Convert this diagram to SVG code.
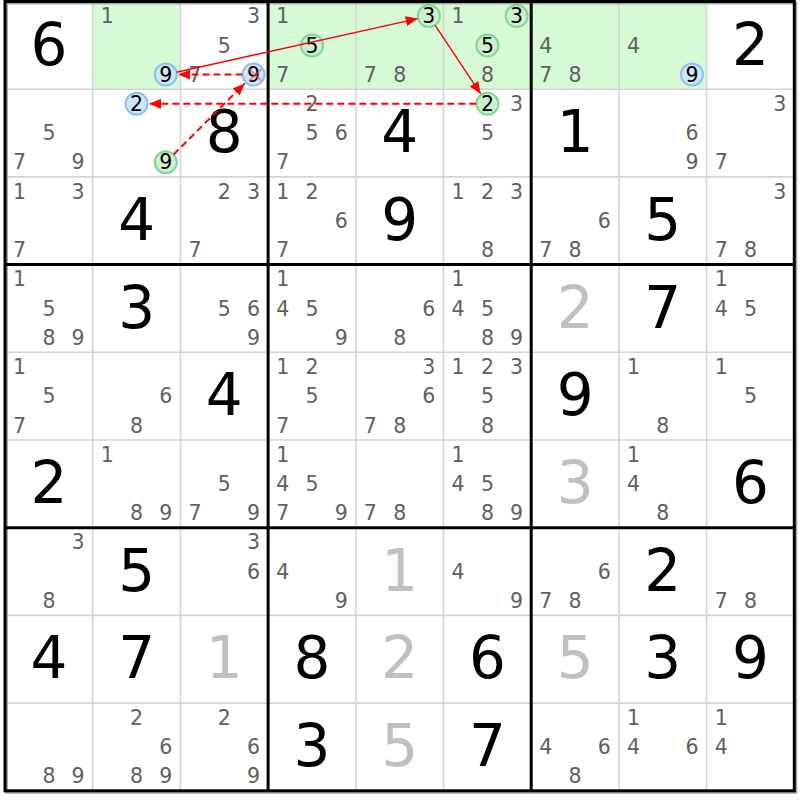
<svg xmlns="http://www.w3.org/2000/svg" width="800" height="800" viewBox="0 0 800 800">
<defs>
<style>
text{font-family:"DejaVu Sans","Verdana",sans-serif;text-anchor:middle}
.c{font-size:20.5px;fill:#606060}
.h{font-size:20.5px;fill:#000}
.g{font-size:58px;fill:#000}
.s{font-size:58px;fill:#c0c0c0}
.bg{fill:#d5fad5}
.cb{fill:#cfe5fb;stroke:#8cc0ee;stroke-width:2}
.cg{fill:#cdf0d0;stroke:#80d890;stroke-width:2}
.thin{stroke:#d4d4d4;stroke-width:1.6;fill:none}
.thick{stroke:#000;stroke-width:3;fill:none}
.arr{stroke:#f00;fill:none;marker-end:url(#ah)}
.sol{stroke-width:1.4}
.dash{stroke-width:2;stroke-dasharray:7,4}
</style>
<marker id="ah" markerUnits="userSpaceOnUse" markerWidth="12" markerHeight="10" refX="12" refY="5" orient="auto"><path d="M0,0 L12,5 L0,10 z" fill="#f00"/></marker>
</defs>
<rect x="0" y="0" width="800" height="800" fill="#fff"/>
<g id="highlight">
<rect class="bg" x="92.7" y="1.5" width="87.7" height="87.7"/>
<rect class="bg" x="268.1" y="1.5" width="438.5" height="87.7"/>
</g>
<g id="grid">
<path class="thin" d="M92.7,1.5V790.8M180.4,1.5V790.8M355.8,1.5V790.8M443.5,1.5V790.8M618.9,1.5V790.8M706.6,1.5V790.8M5,89.2H794.3M5,176.9H794.3M5,352.3H794.3M5,440H794.3M5,615.4H794.3M5,703.1H794.3"/>
<rect x="6.5" y="3" width="789.3" height="789.3" fill="none" stroke="#aaa" stroke-width="3"/>
<path class="thick" d="M268.1,1.5V790.8M531.2,1.5V790.8M5,264.6H794.3M5,527.7H794.3"/>
<rect class="thick" x="5" y="1.5" width="789.3" height="789.3"/>
</g>
<g id="r1c1" transform="translate(5,1.5)"><text class="g" x="43.9" y="63">6</text></g>
<g id="r1c2" transform="translate(92.7,1.5)"><circle class="cb" cx="73.1" cy="73.1" r="11"/><text class="c" x="14.6" y="21.8">1</text><text class="h" x="73.1" y="80.3">9</text></g>
<g id="r1c3" transform="translate(180.4,1.5)"><circle class="cb" cx="73.1" cy="73.1" r="11"/><text class="c" x="73.1" y="21.8">3</text><text class="c" x="43.9" y="51">5</text><text class="c" x="14.6" y="80.3">7</text><text class="h" x="73.1" y="80.3">9</text><path d="M69,67.5L81,79.5M69,79.5L81,67.5" stroke="#ff5050" stroke-opacity="0.55" stroke-width="2.2"/></g>
<g id="r1c4" transform="translate(268.1,1.5)"><circle class="cg" cx="43.9" cy="43.9" r="11"/><text class="c" x="14.6" y="21.8">1</text><text class="h" x="43.9" y="51">5</text><text class="c" x="14.6" y="80.3">7</text></g>
<g id="r1c5" transform="translate(355.8,1.5)"><circle class="cg" cx="73.1" cy="14.6" r="11"/><text class="h" x="73.1" y="21.8">3</text><text class="c" x="14.6" y="80.3">7</text><text class="c" x="43.9" y="80.3">8</text></g>
<g id="r1c6" transform="translate(443.5,1.5)"><circle class="cg" cx="73.1" cy="14.6" r="11"/><circle class="cg" cx="43.9" cy="43.9" r="11"/><text class="c" x="14.6" y="21.8">1</text><text class="h" x="73.1" y="21.8">3</text><text class="h" x="43.9" y="51">5</text><text class="c" x="43.9" y="80.3">8</text></g>
<g id="r1c7" transform="translate(531.2,1.5)"><text class="c" x="14.6" y="51">4</text><text class="c" x="14.6" y="80.3">7</text><text class="c" x="43.9" y="80.3">8</text></g>
<g id="r1c8" transform="translate(618.9,1.5)"><circle class="cb" cx="73.1" cy="73.1" r="11"/><text class="c" x="14.6" y="51">4</text><text class="h" x="73.1" y="80.3">9</text></g>
<g id="r1c9" transform="translate(706.6,1.5)"><text class="g" x="43.9" y="63">2</text></g>
<g id="r2c1" transform="translate(5,89.2)"><text class="c" x="43.9" y="51">5</text><text class="c" x="14.6" y="80.3">7</text><text class="c" x="73.1" y="80.3">9</text></g>
<g id="r2c2" transform="translate(92.7,89.2)"><circle class="cb" cx="43.9" cy="14.6" r="11"/><circle class="cg" cx="73.1" cy="73.1" r="11"/><text class="h" x="43.9" y="21.8">2</text><text class="h" x="73.1" y="80.3">9</text></g>
<g id="r2c3" transform="translate(180.4,89.2)"><text class="g" x="43.9" y="63">8</text></g>
<g id="r2c4" transform="translate(268.1,89.2)"><text class="c" x="43.9" y="21.8">2</text><text class="c" x="43.9" y="51">5</text><text class="c" x="73.1" y="51">6</text><text class="c" x="14.6" y="80.3">7</text></g>
<g id="r2c5" transform="translate(355.8,89.2)"><text class="g" x="43.9" y="63">4</text></g>
<g id="r2c6" transform="translate(443.5,89.2)"><circle class="cg" cx="43.9" cy="14.6" r="11"/><text class="h" x="43.9" y="21.8">2</text><text class="c" x="73.1" y="21.8">3</text><text class="c" x="43.9" y="51">5</text></g>
<g id="r2c7" transform="translate(531.2,89.2)"><text class="g" x="43.9" y="63">1</text></g>
<g id="r2c8" transform="translate(618.9,89.2)"><text class="c" x="73.1" y="51">6</text><text class="c" x="73.1" y="80.3">9</text></g>
<g id="r2c9" transform="translate(706.6,89.2)"><text class="c" x="73.1" y="21.8">3</text><text class="c" x="14.6" y="80.3">7</text></g>
<g id="r3c1" transform="translate(5,176.9)"><text class="c" x="14.6" y="21.8">1</text><text class="c" x="73.1" y="21.8">3</text><text class="c" x="14.6" y="80.3">7</text></g>
<g id="r3c2" transform="translate(92.7,176.9)"><text class="g" x="43.9" y="63">4</text></g>
<g id="r3c3" transform="translate(180.4,176.9)"><text class="c" x="43.9" y="21.8">2</text><text class="c" x="73.1" y="21.8">3</text><text class="c" x="14.6" y="80.3">7</text></g>
<g id="r3c4" transform="translate(268.1,176.9)"><text class="c" x="14.6" y="21.8">1</text><text class="c" x="43.9" y="21.8">2</text><text class="c" x="73.1" y="51">6</text><text class="c" x="14.6" y="80.3">7</text></g>
<g id="r3c5" transform="translate(355.8,176.9)"><text class="g" x="43.9" y="63">9</text></g>
<g id="r3c6" transform="translate(443.5,176.9)"><text class="c" x="14.6" y="21.8">1</text><text class="c" x="43.9" y="21.8">2</text><text class="c" x="73.1" y="21.8">3</text><text class="c" x="43.9" y="80.3">8</text></g>
<g id="r3c7" transform="translate(531.2,176.9)"><text class="c" x="73.1" y="51">6</text><text class="c" x="14.6" y="80.3">7</text><text class="c" x="43.9" y="80.3">8</text></g>
<g id="r3c8" transform="translate(618.9,176.9)"><text class="g" x="43.9" y="63">5</text></g>
<g id="r3c9" transform="translate(706.6,176.9)"><text class="c" x="73.1" y="21.8">3</text><text class="c" x="14.6" y="80.3">7</text><text class="c" x="43.9" y="80.3">8</text></g>
<g id="r4c1" transform="translate(5,264.6)"><text class="c" x="14.6" y="21.8">1</text><text class="c" x="43.9" y="51">5</text><text class="c" x="43.9" y="80.3">8</text><text class="c" x="73.1" y="80.3">9</text></g>
<g id="r4c2" transform="translate(92.7,264.6)"><text class="g" x="43.9" y="63">3</text></g>
<g id="r4c3" transform="translate(180.4,264.6)"><text class="c" x="43.9" y="51">5</text><text class="c" x="73.1" y="51">6</text><text class="c" x="73.1" y="80.3">9</text></g>
<g id="r4c4" transform="translate(268.1,264.6)"><text class="c" x="14.6" y="21.8">1</text><text class="c" x="14.6" y="51">4</text><text class="c" x="43.9" y="51">5</text><text class="c" x="73.1" y="80.3">9</text></g>
<g id="r4c5" transform="translate(355.8,264.6)"><text class="c" x="73.1" y="51">6</text><text class="c" x="43.9" y="80.3">8</text></g>
<g id="r4c6" transform="translate(443.5,264.6)"><text class="c" x="14.6" y="21.8">1</text><text class="c" x="14.6" y="51">4</text><text class="c" x="43.9" y="51">5</text><text class="c" x="43.9" y="80.3">8</text><text class="c" x="73.1" y="80.3">9</text></g>
<g id="r4c7" transform="translate(531.2,264.6)"><text class="s" x="43.9" y="63">2</text></g>
<g id="r4c8" transform="translate(618.9,264.6)"><text class="g" x="43.9" y="63">7</text></g>
<g id="r4c9" transform="translate(706.6,264.6)"><text class="c" x="14.6" y="21.8">1</text><text class="c" x="14.6" y="51">4</text><text class="c" x="43.9" y="51">5</text></g>
<g id="r5c1" transform="translate(5,352.3)"><text class="c" x="14.6" y="21.8">1</text><text class="c" x="43.9" y="51">5</text><text class="c" x="14.6" y="80.3">7</text></g>
<g id="r5c2" transform="translate(92.7,352.3)"><text class="c" x="73.1" y="51">6</text><text class="c" x="43.9" y="80.3">8</text></g>
<g id="r5c3" transform="translate(180.4,352.3)"><text class="g" x="43.9" y="63">4</text></g>
<g id="r5c4" transform="translate(268.1,352.3)"><text class="c" x="14.6" y="21.8">1</text><text class="c" x="43.9" y="21.8">2</text><text class="c" x="43.9" y="51">5</text><text class="c" x="14.6" y="80.3">7</text></g>
<g id="r5c5" transform="translate(355.8,352.3)"><text class="c" x="73.1" y="21.8">3</text><text class="c" x="73.1" y="51">6</text><text class="c" x="14.6" y="80.3">7</text><text class="c" x="43.9" y="80.3">8</text></g>
<g id="r5c6" transform="translate(443.5,352.3)"><text class="c" x="14.6" y="21.8">1</text><text class="c" x="43.9" y="21.8">2</text><text class="c" x="73.1" y="21.8">3</text><text class="c" x="43.9" y="51">5</text><text class="c" x="43.9" y="80.3">8</text></g>
<g id="r5c7" transform="translate(531.2,352.3)"><text class="g" x="43.9" y="63">9</text></g>
<g id="r5c8" transform="translate(618.9,352.3)"><text class="c" x="14.6" y="21.8">1</text><text class="c" x="43.9" y="80.3">8</text></g>
<g id="r5c9" transform="translate(706.6,352.3)"><text class="c" x="14.6" y="21.8">1</text><text class="c" x="43.9" y="51">5</text></g>
<g id="r6c1" transform="translate(5,440)"><text class="g" x="43.9" y="63">2</text></g>
<g id="r6c2" transform="translate(92.7,440)"><text class="c" x="14.6" y="21.8">1</text><text class="c" x="43.9" y="80.3">8</text><text class="c" x="73.1" y="80.3">9</text></g>
<g id="r6c3" transform="translate(180.4,440)"><text class="c" x="43.9" y="51">5</text><text class="c" x="14.6" y="80.3">7</text><text class="c" x="73.1" y="80.3">9</text></g>
<g id="r6c4" transform="translate(268.1,440)"><text class="c" x="14.6" y="21.8">1</text><text class="c" x="14.6" y="51">4</text><text class="c" x="43.9" y="51">5</text><text class="c" x="14.6" y="80.3">7</text><text class="c" x="73.1" y="80.3">9</text></g>
<g id="r6c5" transform="translate(355.8,440)"><text class="c" x="14.6" y="80.3">7</text><text class="c" x="43.9" y="80.3">8</text></g>
<g id="r6c6" transform="translate(443.5,440)"><text class="c" x="14.6" y="21.8">1</text><text class="c" x="14.6" y="51">4</text><text class="c" x="43.9" y="51">5</text><text class="c" x="43.9" y="80.3">8</text><text class="c" x="73.1" y="80.3">9</text></g>
<g id="r6c7" transform="translate(531.2,440)"><text class="s" x="43.9" y="63">3</text></g>
<g id="r6c8" transform="translate(618.9,440)"><text class="c" x="14.6" y="21.8">1</text><text class="c" x="14.6" y="51">4</text><text class="c" x="43.9" y="80.3">8</text></g>
<g id="r6c9" transform="translate(706.6,440)"><text class="g" x="43.9" y="63">6</text></g>
<g id="r7c1" transform="translate(5,527.7)"><text class="c" x="73.1" y="21.8">3</text><text class="c" x="43.9" y="80.3">8</text></g>
<g id="r7c2" transform="translate(92.7,527.7)"><text class="g" x="43.9" y="63">5</text></g>
<g id="r7c3" transform="translate(180.4,527.7)"><text class="c" x="73.1" y="21.8">3</text><text class="c" x="73.1" y="51">6</text></g>
<g id="r7c4" transform="translate(268.1,527.7)"><text class="c" x="14.6" y="51">4</text><text class="c" x="73.1" y="80.3">9</text></g>
<g id="r7c5" transform="translate(355.8,527.7)"><text class="s" x="43.9" y="63">1</text></g>
<g id="r7c6" transform="translate(443.5,527.7)"><text class="c" x="14.6" y="51">4</text><text class="c" x="73.1" y="80.3">9</text></g>
<g id="r7c7" transform="translate(531.2,527.7)"><text class="c" x="73.1" y="51">6</text><text class="c" x="14.6" y="80.3">7</text><text class="c" x="43.9" y="80.3">8</text></g>
<g id="r7c8" transform="translate(618.9,527.7)"><text class="g" x="43.9" y="63">2</text></g>
<g id="r7c9" transform="translate(706.6,527.7)"><text class="c" x="14.6" y="80.3">7</text><text class="c" x="43.9" y="80.3">8</text></g>
<g id="r8c1" transform="translate(5,615.4)"><text class="g" x="43.9" y="63">4</text></g>
<g id="r8c2" transform="translate(92.7,615.4)"><text class="g" x="43.9" y="63">7</text></g>
<g id="r8c3" transform="translate(180.4,615.4)"><text class="s" x="43.9" y="63">1</text></g>
<g id="r8c4" transform="translate(268.1,615.4)"><text class="g" x="43.9" y="63">8</text></g>
<g id="r8c5" transform="translate(355.8,615.4)"><text class="s" x="43.9" y="63">2</text></g>
<g id="r8c6" transform="translate(443.5,615.4)"><text class="g" x="43.9" y="63">6</text></g>
<g id="r8c7" transform="translate(531.2,615.4)"><text class="s" x="43.9" y="63">5</text></g>
<g id="r8c8" transform="translate(618.9,615.4)"><text class="g" x="43.9" y="63">3</text></g>
<g id="r8c9" transform="translate(706.6,615.4)"><text class="g" x="43.9" y="63">9</text></g>
<g id="r9c1" transform="translate(5,703.1)"><text class="c" x="43.9" y="80.3">8</text><text class="c" x="73.1" y="80.3">9</text></g>
<g id="r9c2" transform="translate(92.7,703.1)"><text class="c" x="43.9" y="21.8">2</text><text class="c" x="73.1" y="51">6</text><text class="c" x="43.9" y="80.3">8</text><text class="c" x="73.1" y="80.3">9</text></g>
<g id="r9c3" transform="translate(180.4,703.1)"><text class="c" x="43.9" y="21.8">2</text><text class="c" x="73.1" y="51">6</text><text class="c" x="73.1" y="80.3">9</text></g>
<g id="r9c4" transform="translate(268.1,703.1)"><text class="g" x="43.9" y="63">3</text></g>
<g id="r9c5" transform="translate(355.8,703.1)"><text class="s" x="43.9" y="63">5</text></g>
<g id="r9c6" transform="translate(443.5,703.1)"><text class="g" x="43.9" y="63">7</text></g>
<g id="r9c7" transform="translate(531.2,703.1)"><text class="c" x="14.6" y="51">4</text><text class="c" x="73.1" y="51">6</text><text class="c" x="43.9" y="80.3">8</text></g>
<g id="r9c8" transform="translate(618.9,703.1)"><text class="c" x="14.6" y="21.8">1</text><text class="c" x="14.6" y="51">4</text><text class="c" x="73.1" y="51">6</text></g>
<g id="r9c9" transform="translate(706.6,703.1)"><text class="c" x="14.6" y="21.8">1</text><text class="c" x="14.6" y="51">4</text></g>
<g id="connectors">
<line class="arr sol" x1="176.5" y1="72.2" x2="417.7" y2="18.6"/>
<line class="arr sol" x1="435" y1="25.2" x2="480.7" y2="93.8"/>
<line class="arr dash" x1="476.3" y1="103.8" x2="149" y2="103.8"/>
<line class="arr dash" x1="242.5" y1="74.6" x2="178.3" y2="74.6"/>
<line class="arr dash" x1="173.6" y1="154.5" x2="244.7" y2="83.4"/>
</g>
</svg>
